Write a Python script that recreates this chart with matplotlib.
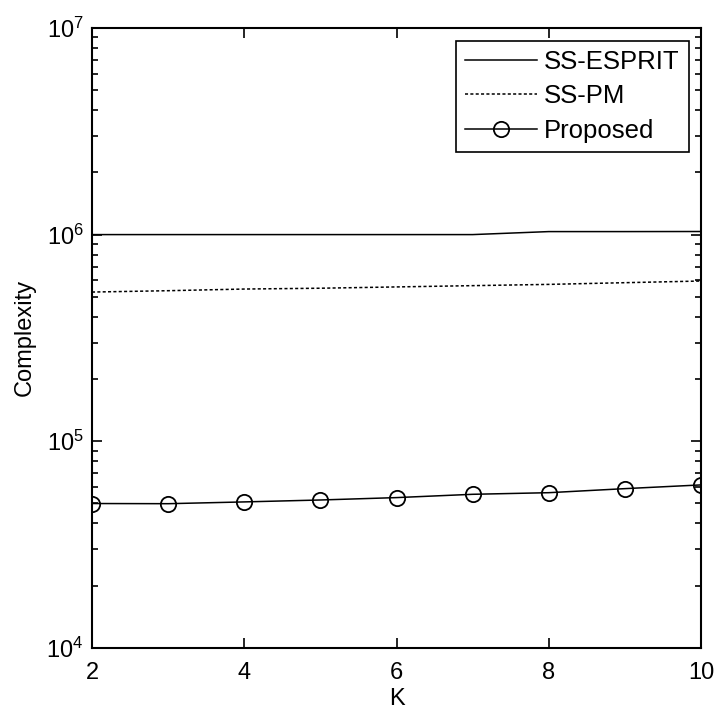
import matplotlib
matplotlib.use('Agg')
import matplotlib.pyplot as plt
from matplotlib.ticker import LogLocator, NullFormatter

plt.rcParams['font.family'] = ['Liberation Sans', 'DejaVu Sans']
plt.rcParams['mathtext.fontset'] = 'custom'
plt.rcParams['mathtext.rm'] = 'Liberation Sans'
plt.rcParams['mathtext.it'] = 'Liberation Sans'
plt.rcParams['mathtext.default'] = 'regular'

# complexity vs number of sources K
K = [2, 3, 4, 5, 6, 7, 8, 9, 10]
ss_esprit = [1.0e6, 1.0e6, 1.0e6, 1.0e6, 1.0e6, 1.0e6, 1.034e6, 1.034e6, 1.035e6]
ss_pm = [5.27e5, 5.35e5, 5.45e5, 5.50e5, 5.58e5, 5.66e5, 5.74e5, 5.85e5, 5.96e5]
proposed = [4.99e4, 4.98e4, 5.08e4, 5.19e4, 5.33e4, 5.53e4, 5.63e4, 5.89e4, 6.14e4]

fig = plt.figure(figsize=(7.17, 7.15), dpi=100)
ax = fig.add_axes([0.1283, 0.0941, 0.8494, 0.8667])

ax.semilogy(K, ss_esprit, '-', color='black', lw=1.1, label='SS-ESPRIT')
ax.semilogy(K, ss_pm, color='black', lw=1.1, linestyle=(0, (2, 1.5)), label='SS-PM')
ax.semilogy(K, proposed, '-o', color='black', lw=1.1, markersize=11,
            markerfacecolor='none', markeredgewidth=1.3, label='Proposed')

ax.set_xlim(2, 10)
ax.set_ylim(1e4, 1e7)
ax.set_xticks([2, 4, 6, 8, 10])
ax.yaxis.set_major_locator(LogLocator(base=10, numticks=10))
ax.yaxis.set_minor_locator(LogLocator(base=10, subs=range(2, 10), numticks=10))
ax.yaxis.set_minor_formatter(NullFormatter())

ax.tick_params(which='both', direction='in', top=True, right=True, labelsize=17, width=1.2)
ax.tick_params(which='major', length=7)
ax.tick_params(which='minor', length=4)
ax.tick_params(axis='x', which='major', pad=10)
ax.tick_params(axis='y', which='major', pad=6)
for s in ax.spines.values():
    s.set_linewidth(1.5)

ax.set_xlabel('K', fontsize=17, labelpad=3)
ax.set_ylabel('Complexity', fontsize=17, labelpad=8)

leg = ax.legend(loc='upper right', fontsize=18.5, fancybox=False, framealpha=1,
                edgecolor='black', borderpad=0.35, handlelength=2.8,
                labelspacing=0.4, handletextpad=0.3,
                bbox_to_anchor=(0.98, 0.979), borderaxespad=0)
leg.get_frame().set_linewidth(1.2)

fig.savefig('out.png', dpi=100)
